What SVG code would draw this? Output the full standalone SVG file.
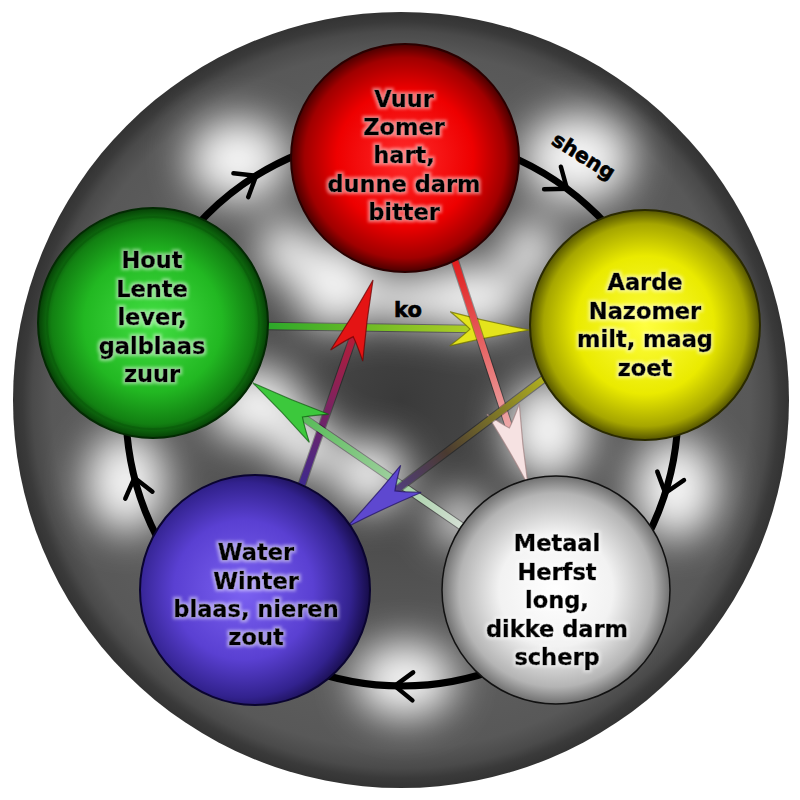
<svg xmlns="http://www.w3.org/2000/svg" width="800" height="800" viewBox="0 0 800 800">
<defs>
<style>
.lbl{font-family:"DejaVu Sans","Verdana",sans-serif;font-weight:bold;font-size:22.5px;fill:#000;stroke:#000;stroke-width:0.6;text-anchor:middle}
.ring{fill:none;stroke:#000;stroke-width:7}
.chev{fill:none;stroke:#000;stroke-width:4.5;stroke-linecap:round;stroke-linejoin:miter}
.koline{fill:none;stroke-width:6.5;stroke-linecap:butt}
.kounder{fill:none;stroke:#000;stroke-opacity:0.35;stroke-width:8.5}
.head{stroke-width:1.2;stroke-opacity:0.7}
</style>
<radialGradient id="bg" cx="0.5" cy="0.5" r="0.5">
<stop offset="0" stop-color="#3a3a3a"/>
<stop offset="0.35" stop-color="#4c4c4c"/>
<stop offset="0.72" stop-color="#5e5e5e"/>
<stop offset="0.9" stop-color="#585858"/>
<stop offset="0.95" stop-color="#4a4a4a"/>
<stop offset="0.975" stop-color="#3a3a3a"/>
<stop offset="1" stop-color="#333"/>
</radialGradient>
<radialGradient id="gRed" cx="0.5" cy="0.5" r="0.5">
<stop offset="0" stop-color="#ff2a2a"/>
<stop offset="0.6" stop-color="#ee0000"/>
<stop offset="0.88" stop-color="#a00000"/>
<stop offset="1" stop-color="#4a0000"/>
</radialGradient>
<radialGradient id="gYel" cx="0.5" cy="0.5" r="0.5">
<stop offset="0" stop-color="#ffff40"/>
<stop offset="0.6" stop-color="#eaea00"/>
<stop offset="0.88" stop-color="#a6a600"/>
<stop offset="1" stop-color="#555500"/>
</radialGradient>
<radialGradient id="gGrn" cx="0.5" cy="0.5" r="0.5">
<stop offset="0" stop-color="#44e044"/>
<stop offset="0.6" stop-color="#22b822"/>
<stop offset="0.88" stop-color="#128012"/>
<stop offset="1" stop-color="#064006"/>
</radialGradient>
<radialGradient id="gBlu" cx="0.45" cy="0.5" r="0.55">
<stop offset="0" stop-color="#7c62f2"/>
<stop offset="0.55" stop-color="#5a40d2"/>
<stop offset="0.85" stop-color="#32228e"/>
<stop offset="1" stop-color="#160c48"/>
</radialGradient>
<radialGradient id="gWht" cx="0.5" cy="0.5" r="0.5">
<stop offset="0" stop-color="#ffffff"/>
<stop offset="0.5" stop-color="#f2f2f2"/>
<stop offset="0.85" stop-color="#b4b4b4"/>
<stop offset="1" stop-color="#707070"/>
</radialGradient>
<linearGradient id="k1" gradientUnits="userSpaceOnUse" x1="265" y1="326" x2="530" y2="330">
<stop offset="0" stop-color="#2aa82a"/><stop offset="1" stop-color="#d8d820"/>
</linearGradient>
<linearGradient id="k2" gradientUnits="userSpaceOnUse" x1="300" y1="490" x2="373" y2="280">
<stop offset="0" stop-color="#3a2a90"/><stop offset="1" stop-color="#e01818"/>
</linearGradient>
<linearGradient id="k3" gradientUnits="userSpaceOnUse" x1="453" y1="255" x2="528" y2="485">
<stop offset="0" stop-color="#e01818"/><stop offset="1" stop-color="#f0d8d8"/>
</linearGradient>
<linearGradient id="k4" gradientUnits="userSpaceOnUse" x1="467" y1="530" x2="253" y2="383">
<stop offset="0" stop-color="#d8e0d8"/><stop offset="1" stop-color="#30b030"/>
</linearGradient>
<linearGradient id="k5" gradientUnits="userSpaceOnUse" x1="545" y1="378" x2="347" y2="527">
<stop offset="0" stop-color="#b0b020"/><stop offset="0.5" stop-color="#4a3a30"/><stop offset="1" stop-color="#5a44c8"/>
</linearGradient>
<filter id="blur" x="-50%" y="-50%" width="200%" height="200%">
<feGaussianBlur stdDeviation="20"/>
</filter>
<filter id="halo" x="-10%" y="-20%" width="120%" height="140%">
<feMorphology in="SourceAlpha" operator="dilate" radius="1.5" result="d"/>
<feGaussianBlur in="d" stdDeviation="1.5" result="b"/>
<feFlood flood-color="#ffffff" flood-opacity="0.45"/>
<feComposite in2="b" operator="in" result="h"/>
<feMerge><feMergeNode in="h"/><feMergeNode in="SourceGraphic"/></feMerge>
</filter>
<path id="chev" class="chev" d="M-14,-18 L0,0 L14,-18"/>
<path id="head" d="M0,0 Q-40,-7 -80,-17 Q-66,-6 -60,0 Q-66,6 -80,17 Q-40,7 0,0Z"/>
</defs>

<g id="background">
<rect width="800" height="800" fill="#fff"/>
<circle cx="401" cy="400" r="388" fill="url(#bg)"/>
</g>

<g id="glows" filter="url(#blur)" fill="#fff" opacity="0.95">
<ellipse cx="238" cy="160" rx="50" ry="42"/>
<ellipse cx="578" cy="158" rx="55" ry="45"/>
<ellipse cx="676" cy="488" rx="42" ry="50"/>
<ellipse cx="405" cy="680" rx="50" ry="38"/>
<ellipse cx="126" cy="482" rx="40" ry="50"/>
<ellipse cx="335" cy="285" rx="42" ry="45"/>
<ellipse cx="470" cy="298" rx="55" ry="34"/>
<ellipse cx="405" cy="300" rx="34" ry="24"/>
<ellipse cx="255" cy="405" rx="48" ry="38"/>
<ellipse cx="305" cy="445" rx="32" ry="30"/>
<ellipse cx="548" cy="430" rx="42" ry="50"/>
<ellipse cx="370" cy="475" rx="38" ry="34"/>
<ellipse cx="530" cy="250" rx="26" ry="30"/>
<ellipse cx="285" cy="250" rx="26" ry="30"/>
<ellipse cx="460" cy="520" rx="26" ry="24"/>
</g>

<g id="connectors">
<g id="sheng">
<circle class="ring" cx="402" cy="410" r="276"/>
<g transform="translate(402 410)">
<use href="#chev" transform="rotate(-121.9) translate(276 0)"/>
<use href="#chev" transform="rotate(-53.3) translate(276 0)"/>
<use href="#chev" transform="rotate(17.5) translate(276 0)"/>
<use href="#chev" transform="rotate(91.5) translate(276 0)"/>
<use href="#chev" transform="rotate(165.8) translate(276 0)"/>
</g>
<text class="lbl" style="font-size:20.5px" transform="translate(580 162) rotate(32)">sheng</text>
</g>
<g id="ko">
<line class="kounder" x1="265" y1="326" x2="475" y2="329"/>
<line class="koline" stroke="url(#k1)" x1="265" y1="326" x2="475" y2="329"/>
<use href="#head" transform="translate(530 330) rotate(0.86)" fill="#e4e41c" stroke="#6a6a00" class="head"/>

<line class="kounder" x1="300" y1="490" x2="355" y2="332"/>
<line class="koline" stroke="url(#k2)" x1="300" y1="490" x2="355" y2="332"/>
<use href="#head" transform="translate(373 280) rotate(-70.8)" fill="#e41414" stroke="#600" class="head"/>

<line class="kounder" x1="453" y1="255" x2="511" y2="433"/>
<line class="koline" stroke="url(#k3)" x1="453" y1="255" x2="511" y2="433"/>
<use href="#head" transform="translate(528 485) rotate(71.9)" fill="#f6e2e2" stroke="#a08080" class="head"/>

<line class="kounder" x1="467" y1="530" x2="298" y2="414"/>
<line class="koline" stroke="url(#k4)" x1="467" y1="530" x2="298" y2="414"/>
<use href="#head" transform="translate(253 383) rotate(-145.5)" fill="#3cc83c" stroke="#0a5a0a" class="head"/>

<line class="kounder" x1="545" y1="378" x2="391" y2="494"/>
<line class="koline" stroke="url(#k5)" x1="545" y1="378" x2="391" y2="494"/>
<use href="#head" transform="translate(347 527) rotate(143)" fill="#5e48d0" stroke="#201060" class="head"/>
<text class="lbl" x="408" y="317" style="font-size:21px">ko</text>
</g>
</g>

<g id="vuur">
<circle cx="405" cy="158" r="114" fill="url(#gRed)" stroke="#2a0000" stroke-width="2"/>
<g filter="url(#halo)">
<text class="lbl" x="404" y="107">Vuur</text>
<text class="lbl" x="404" y="135">Zomer</text>
<text class="lbl" x="404" y="163">hart,</text>
<text class="lbl" x="404" y="192">dunne darm</text>
<text class="lbl" x="404" y="220">bitter</text>
</g>
</g>

<g id="aarde">
<circle cx="645" cy="325" r="115" fill="url(#gYel)" stroke="#2a2a00" stroke-width="2"/>
<g filter="url(#halo)">
<text class="lbl" x="645" y="290">Aarde</text>
<text class="lbl" x="645" y="319">Nazomer</text>
<text class="lbl" x="645" y="347">milt, maag</text>
<text class="lbl" x="645" y="376">zoet</text>
</g>
</g>

<g id="metaal">
<circle cx="556" cy="590" r="114" fill="url(#gWht)" stroke="#111" stroke-width="1.5"/>
<g filter="url(#halo)">
<text class="lbl" x="557" y="551">Metaal</text>
<text class="lbl" x="557" y="580">Herfst</text>
<text class="lbl" x="557" y="608">long,</text>
<text class="lbl" x="557" y="637">dikke darm</text>
<text class="lbl" x="557" y="665">scherp</text>
</g>
</g>

<g id="water">
<circle cx="255" cy="590" r="115" fill="url(#gBlu)" stroke="#0a0430" stroke-width="2"/>
<g filter="url(#halo)">
<text class="lbl" x="256" y="560">Water</text>
<text class="lbl" x="256" y="589">Winter</text>
<text class="lbl" x="256" y="617">blaas, nieren</text>
<text class="lbl" x="256" y="645">zout</text>
</g>
</g>

<g id="hout">
<circle cx="153" cy="323" r="115" fill="url(#gGrn)" stroke="#032a03" stroke-width="2"/>
<circle cx="153" cy="323" r="106" fill="none" stroke="#0a5a0a" stroke-width="2" stroke-opacity="0.6"/>
<g filter="url(#halo)">
<text class="lbl" x="152" y="268">Hout</text>
<text class="lbl" x="152" y="297">Lente</text>
<text class="lbl" x="152" y="325">lever,</text>
<text class="lbl" x="152" y="354">galblaas</text>
<text class="lbl" x="152" y="382">zuur</text>
</g>
</g>
</svg>
